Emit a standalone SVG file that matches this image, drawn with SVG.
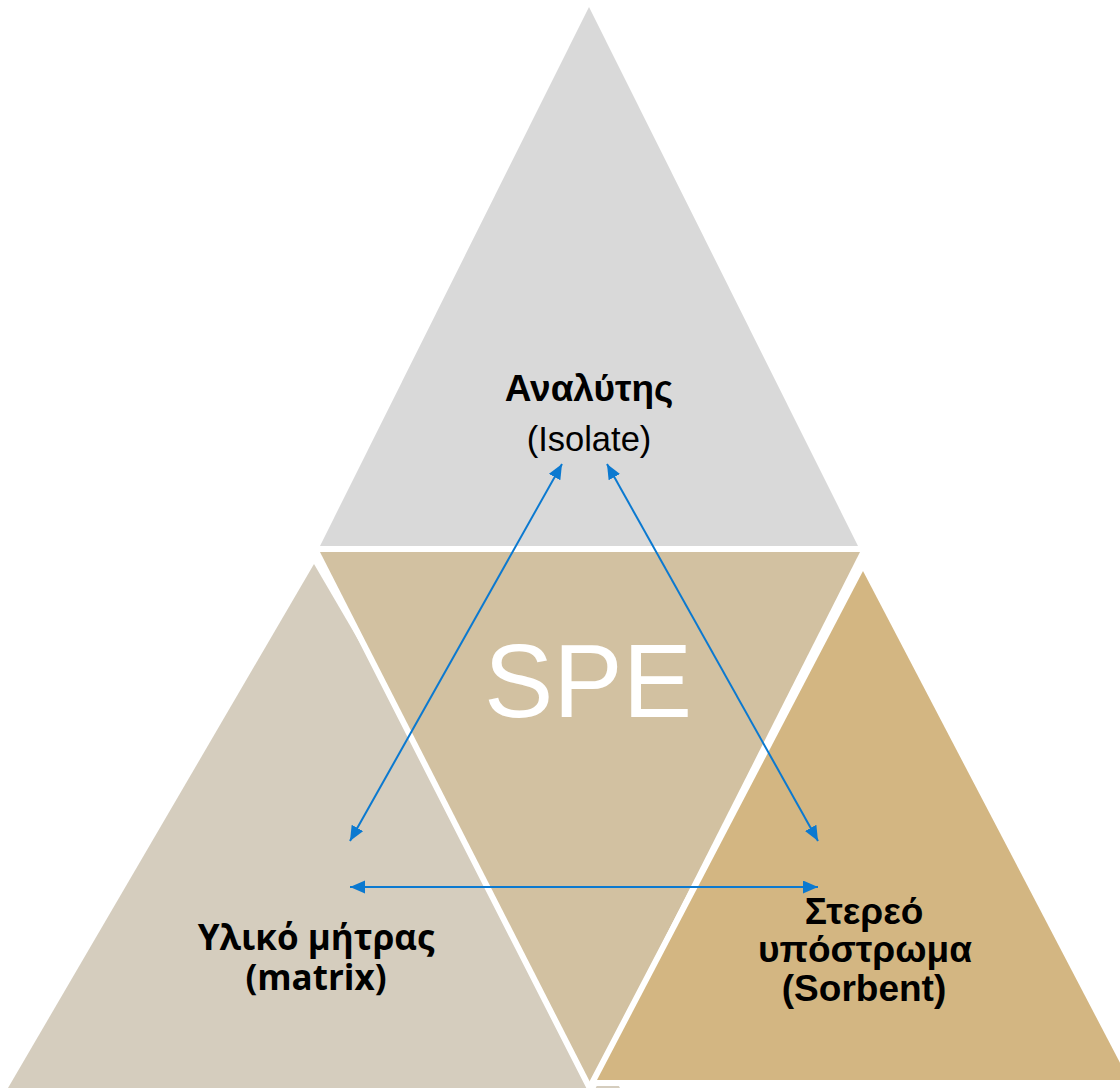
<svg xmlns="http://www.w3.org/2000/svg" width="1120" height="1088" viewBox="0 0 1120 1088">
<defs>
<style>
.tri{stroke:#FFFFFF;stroke-width:12;stroke-linejoin:miter;paint-order:stroke}
.lbl{font-family:"Liberation Sans",Arial,sans-serif;font-weight:bold;font-size:37px;fill:#000000;text-anchor:middle}
.lbl2{font-family:"Open Sans","Liberation Sans",Arial,sans-serif;font-weight:bold;font-size:35px;fill:#000000;text-anchor:middle}
.sub{font-family:"Liberation Sans",Arial,sans-serif;font-size:34.5px;fill:#000000;text-anchor:middle}
.spe{font-family:"Liberation Sans",Arial,sans-serif;font-size:104px;fill:#FFFFFF;text-anchor:middle}
.conn{stroke:#0B79D0;stroke-width:2;fill:none;marker-start:url(#ah);marker-end:url(#ah)}
</style>
<marker id="ah" markerUnits="userSpaceOnUse" markerWidth="16" markerHeight="14" refX="15" refY="6.5" orient="auto-start-reverse">
<path d="M0,0 L15,6.5 L0,13 Z" fill="#0B79D0"/>
</marker>
</defs>
<rect width="1120" height="1088" fill="#FFFFFF"/>
<g id="node-matrix">
<polygon class="tri" points="314,564 620,1088 8,1088" fill="#D5CDBE"/>
</g>
<g id="node-analyte">
<polygon class="tri" points="589,7 859,548 319,548" fill="#D9D9D9"/>
</g>
<g id="node-spe">
<polygon class="tri" points="320,552 860,552 591,1084" fill="#D2C1A1"/>
</g>
<g id="node-sorbent">
<polygon class="tri" points="863,571 1129,1080 597,1080" fill="#D3B682"/>
</g>
<g id="labels">
<text class="lbl" x="589" y="401">Αναλύτης</text>
<text class="sub" x="589" y="451">(Isolate)</text>
<text class="spe" x="588" y="717">SPE</text>
<text class="lbl2" x="316" y="950">Υλικό μήτρας</text>
<text class="lbl2" x="316" y="990">(matrix)</text>
<text class="lbl" x="864" y="924">Στερεό</text>
<text class="lbl" x="865" y="962">υπόστρωμα</text>
<text class="lbl" x="864" y="1001">(Sorbent)</text>
</g>
<g id="connectors">
<line class="conn" x1="350" y1="841" x2="562" y2="464"/>
<line class="conn" x1="607" y1="464" x2="818" y2="841"/>
<line class="conn" x1="350" y1="887" x2="818" y2="887"/>
</g>
</svg>
